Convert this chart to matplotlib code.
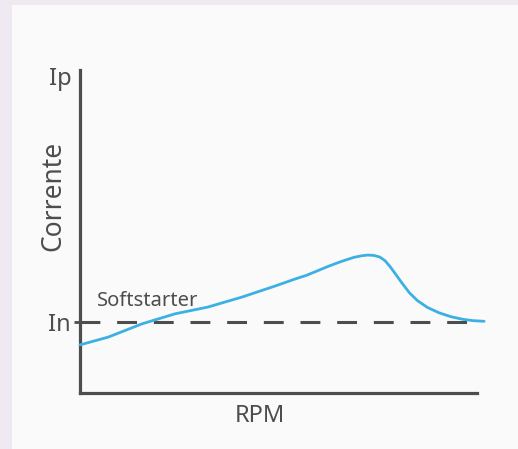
import numpy as np
import matplotlib
matplotlib.use("Agg")
import matplotlib.pyplot as plt
from matplotlib.patches import Rectangle

# RPM (fraction of full speed) and current (fraction of Ip)
rpm = [0.0, 0.071, 0.156, 0.239, 0.322, 0.408, 0.491, 0.542, 0.572, 0.627,
       0.66, 0.69, 0.71, 0.725, 0.74, 0.755, 0.768, 0.78, 0.795, 0.81, 0.83,
       0.85, 0.875, 0.905, 0.935, 0.965, 0.99, 1.018]
current = [0.149, 0.173, 0.214, 0.245, 0.266, 0.297, 0.331, 0.353, 0.365, 0.393,
           0.408, 0.420, 0.425, 0.427, 0.426, 0.421, 0.410, 0.393, 0.368, 0.342, 0.310,
           0.286, 0.265, 0.248, 0.236, 0.228, 0.224, 0.222]
i_nominal = 0.22
i_peak = 1.0

gray = "#4d4d4d"
blue = "#3cb0e2"
font = "Noto Sans"

fig = plt.figure(figsize=(5.18, 4.49), dpi=100)
fig.patch.set_facecolor("#efeaf2")
fig.patches.append(Rectangle((12 / 518, 0), 1, 1 - 5 / 449, transform=fig.transFigure,
                             facecolor="#fafafb", edgecolor="none", zorder=-5))

ax = fig.add_axes([80 / 518, 1 - 393 / 449, 397 / 518, 323 / 449])
ax.set_zorder(2)
ax.set_facecolor("none")
ax.set_xlim(0, 1)
ax.set_ylim(0, 1)

for side in ["top", "right"]:
    ax.spines[side].set_visible(False)
for side in ["left", "bottom"]:
    ax.spines[side].set_color(gray)
    ax.spines[side].set_linewidth(2.3)
ax.set_xticks([])
ax.set_yticks([i_nominal])
ax.set_yticklabels(["In"], fontsize=17, color=gray, family=font)
ax.tick_params(axis="y", length=4, width=2, color=gray, pad=3)
ax.text(-0.05, i_peak + 0.01, "Ip", fontsize=17, color=gray, family=font,
        ha="center", va="top")

ax.axhline(i_nominal, xmin=0, xmax=1.0, color=gray, lw=2.2, dashes=(6.5, 5.5), zorder=2)
ax.plot(rpm, current, color=blue, lw=2.0, clip_on=False, zorder=3,
        solid_capstyle="round", solid_joinstyle="round")

ax.text(0.042, i_nominal + 0.033, "Softstarter", fontsize=14.5, color=gray,
        family=font, va="bottom", ha="left")

ax.set_xlabel("RPM", fontsize=17, color=gray, family=font, labelpad=8, x=0.453)
ax.set_ylabel("Corrente", fontsize=19, color=gray, family=font, labelpad=-14,
              y=0.61)

fig.savefig("out.png", dpi=100, facecolor=fig.get_facecolor())
